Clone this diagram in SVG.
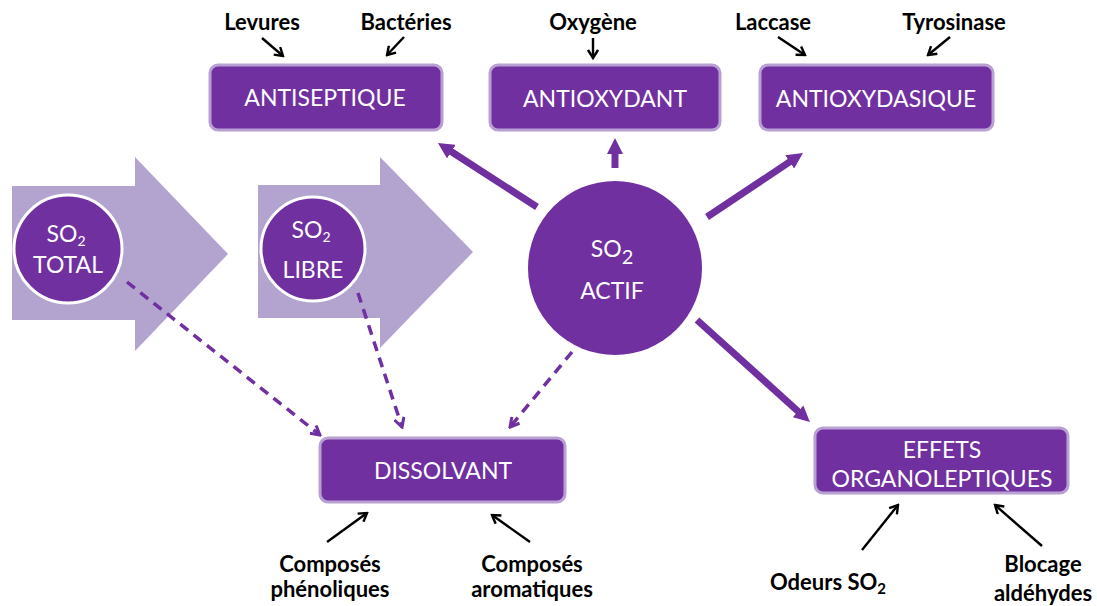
<svg xmlns="http://www.w3.org/2000/svg" width="1097" height="606" viewBox="0 0 1097 606">
<defs>
<style>
.big{fill:#B3A3CF}
.circ{fill:#7030A0;stroke:#FFFFFF;stroke-width:3}
.box{fill:#7030A0;stroke:#B9A0D2;stroke-width:3}
.wt{fill:#FFFFFF;font-family:Lato,'Liberation Sans',sans-serif;font-size:23px;text-anchor:middle}
.bt{fill:#000000;font-family:Lato,'Liberation Sans',sans-serif;font-size:22px;font-weight:bold;text-anchor:middle}
.thick{stroke:#7030A0;stroke-width:7;fill:none;marker-end:url(#ph)}
.dash{stroke:#7030A0;stroke-width:3.5;fill:none;stroke-dasharray:10 7;marker-end:url(#dh)}
.blk{stroke:#000000;stroke-width:2.4;fill:none;marker-end:url(#bh)}
</style>
<marker id="ph" viewBox="0 0 16 16" refX="4" refY="8" markerWidth="16" markerHeight="16" markerUnits="userSpaceOnUse" orient="auto"><path d="M0,0 L16,8 L0,16 Z" fill="#7030A0"/></marker>
<marker id="dh" viewBox="0 0 12 12" refX="10" refY="6" markerWidth="12" markerHeight="12" markerUnits="userSpaceOnUse" orient="auto"><path d="M1,1 L10,6 L1,11" fill="none" stroke="#7030A0" stroke-width="3"/></marker>
<marker id="bh" viewBox="0 0 12 12" refX="10" refY="6" markerWidth="12" markerHeight="12" markerUnits="userSpaceOnUse" orient="auto"><path d="M2,1 L10,6 L2,11" fill="none" stroke="#000000" stroke-width="2.4"/></marker>
</defs>
<rect width="1097" height="606" fill="#FFFFFF"/>
<g id="chevrons">
<polygon class="big" points="12,186 135,186 135,157 228,254 135,351 135,320 12,320"/>
<polygon class="big" points="258,185 380,185 380,157 473,252 380,348 380,318 258,318"/>
</g>
<g id="connectors">
<line class="thick" x1="537" y1="207" x2="448" y2="149.5"/>
<line class="thick" x1="615" y1="168" x2="615" y2="150"/>
<line class="thick" x1="707" y1="217" x2="793" y2="159.7"/>
<line class="thick" x1="697" y1="320" x2="801" y2="414"/>
<line class="dash" x1="127" y1="282" x2="320" y2="435"/>
<line class="dash" x1="358" y1="293" x2="402" y2="427"/>
<line class="dash" x1="572" y1="352" x2="510" y2="427"/>
<line class="blk" x1="262" y1="38" x2="283" y2="56"/>
<line class="blk" x1="404" y1="37" x2="387" y2="55"/>
<line class="blk" x1="593" y1="38" x2="593" y2="58"/>
<line class="blk" x1="778" y1="37" x2="805" y2="55"/>
<line class="blk" x1="950" y1="37" x2="928" y2="55"/>
<line class="blk" x1="327" y1="542" x2="367" y2="513"/>
<line class="blk" x1="530" y1="542" x2="492" y2="515"/>
<line class="blk" x1="862" y1="550" x2="898" y2="505"/>
<line class="blk" x1="1042" y1="546" x2="995" y2="505"/>
</g>
<g id="so2-total">
<circle class="circ" cx="68" cy="249" r="54"/>
<text class="wt" x="66" y="242" font-size="22">SO<tspan font-size="14" dy="4">2</tspan></text>
<text class="wt" x="68" y="273" font-size="21">TOTAL</text>
</g>
<g id="so2-libre">
<circle class="circ" cx="313" cy="249" r="52"/>
<text class="wt" x="311" y="238" font-size="22">SO<tspan font-size="14" dy="4">2</tspan></text>
<text class="wt" x="313" y="278" font-size="21">LIBRE</text>
</g>
<g id="so2-actif">
<circle cx="615" cy="268" r="87" fill="#7030A0"/>
<text class="wt" x="612" y="257" font-size="32">SO<tspan font-size="20" dy="7">2</tspan></text>
<text class="wt" x="612" y="299" font-size="35">ACTIF</text>
</g>
<g id="antiseptique">
<rect class="box" x="210" y="65" width="232" height="65" rx="8"/>
<text class="wt" x="325" y="106">ANTISEPTIQUE</text>
</g>
<g id="antioxydant">
<rect class="box" x="490" y="65" width="230" height="65" rx="8"/>
<text class="wt" x="605" y="107">ANTIOXYDANT</text>
</g>
<g id="antioxydasique">
<rect class="box" x="760" y="65" width="233" height="65" rx="8"/>
<text class="wt" x="876" y="107">ANTIOXYDASIQUE</text>
</g>
<g id="dissolvant">
<rect class="box" x="320" y="438" width="245" height="64" rx="8"/>
<text class="wt" x="443" y="479">DISSOLVANT</text>
</g>
<g id="effets">
<rect class="box" x="815" y="428" width="253" height="65" rx="8"/>
<text class="wt" x="942" y="458">EFFETS</text>
<text class="wt" x="942" y="487">ORGANOLEPTIQUES</text>
</g>
<g id="labels">
<text class="bt" x="262" y="30">Levures</text>
<text class="bt" x="406" y="30">Bactéries</text>
<text class="bt" x="593" y="30">Oxygène</text>
<text class="bt" x="773" y="30">Laccase</text>
<text class="bt" x="954" y="30">Tyrosinase</text>
<text class="bt" x="330" y="572">Composés</text>
<text class="bt" x="330" y="597">phénoliques</text>
<text class="bt" x="532" y="572">Composés</text>
<text class="bt" x="532" y="597">aromatiques</text>
<text class="bt" x="828" y="590">Odeurs SO<tspan font-size="15" dy="4">2</tspan></text>
<text class="bt" x="1043" y="572" font-size="20">Blocage</text>
<text class="bt" x="1043" y="601" font-size="20">aldéhydes</text>
</g>
</svg>
